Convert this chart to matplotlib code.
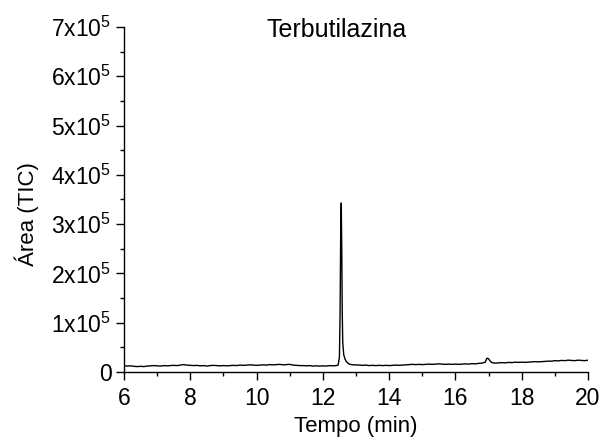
import numpy as np
import matplotlib
matplotlib.use("Agg")
import matplotlib.pyplot as plt
from matplotlib.ticker import MultipleLocator

plt.rcParams['font.family'] = ['Liberation Sans', 'DejaVu Sans']
plt.rcParams['mathtext.fontset'] = 'custom'
plt.rcParams['mathtext.rm'] = 'Liberation Sans'
plt.rcParams['mathtext.it'] = 'Liberation Sans'

# time (min)
t_pre = [round(6.0 + 0.1 * i, 2) for i in range(65)]  # 6.0 .. 12.4
i_pre = [1.3, 1.2, 1.25, 1.15, 1.1, 1.15, 1.1, 1.2, 1.25, 1.3,
         1.25, 1.2, 1.3, 1.25, 1.3, 1.35, 1.3, 1.4, 1.5, 1.4,
         1.35, 1.3, 1.35, 1.25, 1.3, 1.2, 1.3, 1.35, 1.3, 1.25,
         1.3, 1.25, 1.3, 1.35, 1.3, 1.4, 1.35, 1.4, 1.45, 1.4,
         1.35, 1.4, 1.45, 1.4, 1.5, 1.45, 1.5, 1.55, 1.45, 1.5,
         1.55, 1.4, 1.35, 1.3, 1.3, 1.25, 1.3, 1.2, 1.25, 1.2,
         1.25, 1.2, 1.3, 1.25, 1.3]
t_peak = [12.46, 12.50, 12.52, 12.54, 12.555, 12.57, 12.585, 12.60, 12.63, 12.67, 12.72, 12.80, 12.90]
i_peak = [1.4, 3.0, 12.0, 30.0, 34.3, 25.0, 12.0, 6.0, 3.5, 2.6, 2.0, 1.6, 1.45]
t_post = [13.0, 13.1, 13.2, 13.3, 13.4, 13.5, 13.6, 13.7, 13.8, 13.9,
          14.0, 14.1, 14.2, 14.3, 14.4, 14.5, 14.6, 14.7, 14.8, 14.9,
          15.0, 15.1, 15.2, 15.3, 15.4, 15.5, 15.6, 15.7, 15.8, 15.9,
          16.0, 16.1, 16.2, 16.3, 16.4, 16.5, 16.6, 16.7, 16.8, 16.9,
          16.95, 17.0, 17.05, 17.1, 17.2, 17.3, 17.4, 17.5, 17.6, 17.7, 17.8, 17.9,
          18.0, 18.1, 18.2, 18.3, 18.4, 18.5, 18.6, 18.7, 18.8, 18.9,
          19.0, 19.1, 19.2, 19.3, 19.4, 19.5, 19.6, 19.7, 19.8, 19.9, 20.0]
i_post = [1.45, 1.4, 1.35, 1.4, 1.3, 1.35, 1.3, 1.35, 1.3, 1.35,
          1.3, 1.35, 1.4, 1.35, 1.4, 1.45, 1.5, 1.55, 1.5, 1.55,
          1.5, 1.55, 1.6, 1.55, 1.6, 1.65, 1.6, 1.55, 1.6, 1.55,
          1.6, 1.55, 1.6, 1.65, 1.6, 1.7, 1.65, 1.75, 1.8, 2.0,
          2.8, 2.7, 2.2, 1.9, 1.8, 1.85, 1.9, 1.85, 1.95, 1.9, 2.0, 1.95,
          2.0, 1.95, 2.0, 2.05, 2.1, 2.05, 2.1, 2.15, 2.2, 2.2,
          2.3, 2.25, 2.35, 2.3, 2.4, 2.35, 2.3, 2.4, 2.35, 2.3, 2.4]

time = np.array(t_pre + t_peak + t_post)
area = np.array(i_pre + i_peak + i_post) * 1e4

y_ticks = [0, 1e5, 2e5, 3e5, 4e5, 5e5, 6e5, 7e5]
y_labels = ['0', '1x10$^5$', '2x10$^5$', '3x10$^5$', '4x10$^5$', '5x10$^5$', '6x10$^5$', '7x10$^5$']
x_ticks = [6, 8, 10, 12, 14, 16, 18, 20]

W, H = 601, 438
fig = plt.figure(figsize=(W/100, H/100), dpi=100)
ax = fig.add_axes([124/W, 1 - 372/H, (588 - 124)/W, (372 - 27)/H])
ax.plot(time, area, color='black', lw=1.0)

ax.set_xlim(6, 20)
ax.set_ylim(0, 7e5)
ax.set_xticks(x_ticks)
ax.set_xticklabels([str(v) for v in x_ticks])
ax.set_yticks(y_ticks)
ax.set_yticklabels(y_labels)
ax.xaxis.set_minor_locator(MultipleLocator(1))
ax.yaxis.set_minor_locator(MultipleLocator(0.5e5))

for s in ['top', 'right']:
    ax.spines[s].set_visible(False)
for s in ['left', 'bottom']:
    ax.spines[s].set_linewidth(1.0)

ax.tick_params(which='major', direction='out', length=6, width=1, labelsize=16.5)
ax.tick_params(axis='x', which='major', pad=5)
ax.tick_params(axis='y', which='major', pad=3)
ax.tick_params(which='minor', direction='out', length=3, width=1)

fig.text(356/W, (H - 432)/H, 'Tempo (min)', ha='center', va='baseline', fontsize=16)
fig.text(27/W, 1 - 214/H, 'Área (TIC)', ha='center', va='center', rotation=90, fontsize=16)
ax.text((337 - 124)/(588 - 124), (372 - 37)/(372 - 27), 'Terbutilazina',
        transform=ax.transAxes, ha='center', va='baseline', fontsize=18)

fig.savefig('out.png', dpi=100)
